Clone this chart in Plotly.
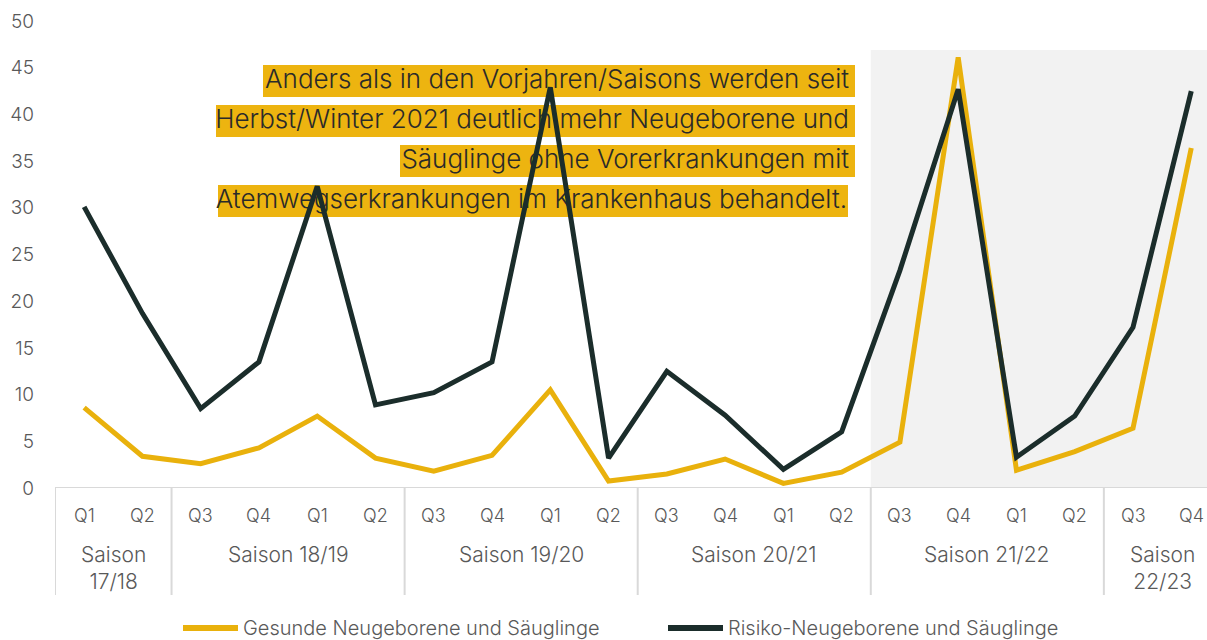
import plotly.graph_objects as go

quarters = ["Q1", "Q2", "Q3", "Q4", "Q1", "Q2", "Q3", "Q4", "Q1", "Q2",
            "Q3", "Q4", "Q1", "Q2", "Q3", "Q4", "Q1", "Q2", "Q3", "Q4"]
seasons = ["Saison<br>17/18", "Saison 18/19", "Saison 19/20", "Saison 20/21",
           "Saison 21/22", "Saison<br>22/23"]
season_sizes = [2, 4, 4, 4, 4, 2]
gesunde = [8.6, 3.4, 2.6, 4.3, 7.7, 3.2, 1.8, 3.5, 10.5, 0.75,
           1.5, 3.1, 0.5, 1.7, 4.9, 46.1, 1.9, 3.9, 6.4, 36.4]
risiko = [30.1, 18.7, 8.5, 13.5, 32.3, 8.9, 10.2, 13.5, 42.9, 3.2,
          12.5, 7.8, 2.0, 6.0, 23.3, 42.7, 3.3, 7.7, 17.2, 42.5]
series_names = ["Gesunde Neugeborene und Säuglinge", "Risiko-Neugeborene und Säuglinge"]
note_lines = ["Anders als in den Vorjahren/Saisons werden seit",
              "Herbst/Winter 2021 deutlich mehr Neugeborene und",
              "Säuglinge ohne Vorerkrankungen mit",
              "Atemwegserkrankungen im Krankenhaus behandelt."]
shade_start, shade_top = 13.5, 46.9

YELLOW = "#E9B10C"
DARK = "#1B2D2B"
GREY = "#595959"
FONT = "Inter"
W, H = 1152, 467          # plot area size in px
PL, PB = 55, 488          # plot left / bottom in page px
XR = [-0.5, 19.27]


def px_to_x(px):
    return XR[0] + (px - PL) / W * (XR[1] - XR[0])


def py_to_y(py):
    return (PB - py) / H * 50


x = list(range(len(quarters)))
fig = go.Figure()

note_boxes = [(263, 65, 855, 97), (216, 105, 855, 137), (400, 145, 855, 177), (218, 185, 848, 217)]
note_right = [849, 849, 849, 847]
shapes = []
shapes.append(dict(type="rect", xref="x", yref="y", x0=shade_start, x1=len(quarters) - 0.5,
                   y0=0, y1=shade_top, fillcolor="#F2F2F2", line=dict(width=0), layer="below"))
for (l, t, r, b) in note_boxes:
    shapes.append(dict(type="rect", xref="x", yref="y", x0=px_to_x(l), x1=px_to_x(r),
                       y0=py_to_y(b), y1=py_to_y(t), fillcolor="#EDB410",
                       line=dict(width=0), layer="below"))
fig.add_trace(go.Scatter(
    x=[px_to_x(r) for r in note_right],
    y=[py_to_y((t + b) / 2) for (_, t, _, b) in note_boxes],
    text=note_lines, mode="text", textposition="middle left", hoverinfo="skip",
    textfont=dict(family=FONT, size=26, color="#2A2A2A", weight=300), showlegend=False))

fig.add_trace(go.Scatter(x=x, y=gesunde, mode="lines", name=series_names[0],
                         line=dict(color=YELLOW, width=5), showlegend=False))
fig.add_trace(go.Scatter(x=x, y=risiko, mode="lines", name=series_names[1],
                         line=dict(color=DARK, width=5), showlegend=False))

shapes.append(dict(type="line", xref="paper", yref="y", x0=0, x1=1, y0=0, y1=0,
                   line=dict(color="#D9D9D9", width=2)))
annotations = []
for i, q in enumerate(quarters):
    annotations.append(dict(x=i, y=(PB - 515) / H, xref="x", yref="paper", text=q, showarrow=False,
                            font=dict(family=FONT, size=18, color=GREY, weight=300),
                            yanchor="middle"))
pos = -0.5
div_bottom = (PB - 595) / H
shapes.append(dict(type="line", xref="x", yref="paper", x0=pos, x1=pos, y0=0, y1=div_bottom,
                   line=dict(color="#D9D9D9", width=2)))
for s, n in zip(seasons, season_sizes):
    center = pos + n / 2
    annotations.append(dict(x=center, y=(PB - 540) / H, xref="x", yref="paper", text=s,
                            showarrow=False, yanchor="top", align="center",
                            font=dict(family=FONT, size=21, color=GREY, weight=300)))
    pos += n
    if pos < len(quarters) - 0.5:
        shapes.append(dict(type="line", xref="x", yref="paper", x0=pos, x1=pos, y0=0,
                           y1=div_bottom, line=dict(color="#D9D9D9", width=2)))

leg = [(series_names[0], YELLOW, 183, 238), (series_names[1], DARK, 668, 723)]
for name, col, xa, xb in leg:
    yl = (PB - 628) / H
    shapes.append(dict(type="line", xref="paper", yref="paper",
                       x0=(xa - PL) / W, x1=(xb - PL) / W, y0=yl, y1=yl,
                       line=dict(color=col, width=6)))
    annotations.append(dict(x=(xb + 3 - PL) / W, y=yl, xref="paper", yref="paper",
                            text=name, showarrow=False, xanchor="left", yanchor="middle",
                            font=dict(family=FONT, size=20, color=GREY, weight=300)))

fig.update_layout(
    width=1207, height=640,
    margin=dict(l=PL, r=0, t=21, b=640 - PB),
    plot_bgcolor="white", paper_bgcolor="white",
    shapes=shapes, annotations=annotations,
    xaxis=dict(range=XR, showticklabels=False, showgrid=False, zeroline=False,
               showline=False, fixedrange=True),
    yaxis=dict(range=[0, 50], dtick=5, showgrid=False, zeroline=False, showline=False,
               tickfont=dict(family=FONT, size=19, color=GREY, weight=300),
               ticklabelstandoff=20),
    showlegend=False,
)
fig.write_html("out.html", config={"displayModeBar": False},
               post_script="document.body.style.margin='0';document.body.style.overflow='hidden';")
